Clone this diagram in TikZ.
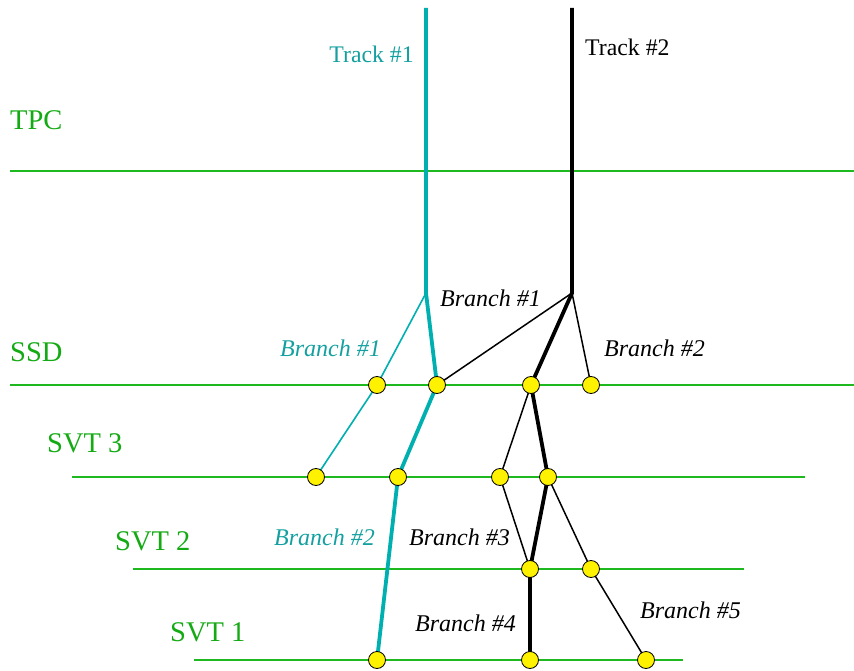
\documentclass[tikz,border=0pt]{standalone}
\usepackage{fontspec}
\setmainfont{Liberation Serif}
\definecolor{tealc}{RGB}{0,175,175}
\definecolor{tealt}{RGB}{20,160,160}
\definecolor{layerg}{RGB}{30,185,30}
\definecolor{layert}{RGB}{20,170,20}
\begin{document}
\begin{tikzpicture}[x=1pt,y=-1pt,
  layer/.style={draw=layerg,line width=1.1pt},
  layerlabel/.style={text=layert,font=\fontsize{28.5}{30}\selectfont,anchor=west,inner sep=0pt},
  tlabel/.style={font=\fontsize{23.8}{25}\selectfont,inner sep=0pt},
  blabel/.style={font=\fontsize{24}{25}\selectfont\itshape,inner sep=0pt},
  hit/.style={circle,draw=black,fill=yellow,minimum size=17pt,inner sep=0pt,line width=0.8pt},
  tthick/.style={draw=tealc,line width=3.8pt},
  tthin/.style={draw=tealc,line width=1.6pt},
  bthick/.style={draw=black,line width=3.8pt},
  bthin/.style={draw=black,line width=1.5pt}]
\useasboundingbox (0,0) rectangle (854,671);
% layers
\coordinate (tpcL) at (10,171); \coordinate (tpcR) at (854,171);
\coordinate (ssdL) at (10,385); \coordinate (ssdR) at (854,385);
\coordinate (s3L) at (72,477); \coordinate (s3R) at (805,477);
\coordinate (s2L) at (133,569); \coordinate (s2R) at (744,569);
\coordinate (s1L) at (194,660); \coordinate (s1R) at (683,660);
\draw[layer] (tpcL) -- (tpcR);
\draw[layer] (ssdL) -- (ssdR);
\draw[layer] (s3L) -- (s3R);
\draw[layer] (s2L) -- (s2R);
\draw[layer] (s1L) -- (s1R);
\node[layerlabel] (lTPC) at (10,120) {TPC};
\node[layerlabel] (lSSD) at (10,352) {SSD};
\node[layerlabel] (lS3) at (47,443) {SVT 3};
\node[layerlabel] (lS2) at (115,541) {SVT 2};
\node[layerlabel] (lS1) at (170,632) {SVT 1};
% track points
\coordinate (t1top) at (426,8);
\coordinate (t1k) at (426,293);
\coordinate (t2top) at (572,8);
\coordinate (t2k) at (572,293);
% hits
\coordinate (a1) at (377,385);
\coordinate (a2) at (437,385);
\coordinate (a3) at (531,385);
\coordinate (a4) at (591,385);
\coordinate (b1) at (316,477);
\coordinate (b2) at (398,477);
\coordinate (b3) at (500,477);
\coordinate (b4) at (548,477);
\coordinate (c1) at (530,569);
\coordinate (c2) at (591,569);
\coordinate (d1) at (377,660);
\coordinate (d2) at (530,660);
\coordinate (d3) at (646,660);
% track 1
\draw[tthick] (t1top) -- (t1k) -- (a2) -- (b2) -- (d1);
\draw[tthin] (t1k) -- (a1) -- (b1);
% track 2
\draw[bthin] (t2k) -- (a2);
\draw[bthin] (t2k) -- (a4);
\draw[bthin] (a3) -- (b3) -- (c1);
\draw[bthin] (b4) -- (c2) -- (d3);
\draw[bthick] (t2top) -- (t2k) -- (a3) -- (b4) -- (c1) -- (d2);
% hit markers
\foreach \p in {a1,a2,a3,a4,b1,b2,b3,b4,c1,c2,d1,d2,d3}
  \node[hit] (h\p) at (\p) {};
% labels
\node[tlabel,text=tealt,anchor=east] (lt1) at (414,54) {Track \#1};
\node[tlabel,anchor=west] (lt2) at (585,47) {Track \#2};
\node[blabel,anchor=west] (lb1) at (440,298) {Branch \#1};
\node[blabel,text=tealt,anchor=east] (lb1t) at (381,348) {Branch \#1};
\node[blabel,anchor=west] (lb2) at (604,348) {Branch \#2};
\node[blabel,text=tealt,anchor=east] (lb2t) at (375,537) {Branch \#2};
\node[blabel,anchor=east] (lb3) at (510,537) {Branch \#3};
\node[blabel,anchor=east] (lb4) at (516,623) {Branch \#4};
\node[blabel,anchor=west] (lb5) at (640,610) {Branch \#5};
\end{tikzpicture}
\end{document}
